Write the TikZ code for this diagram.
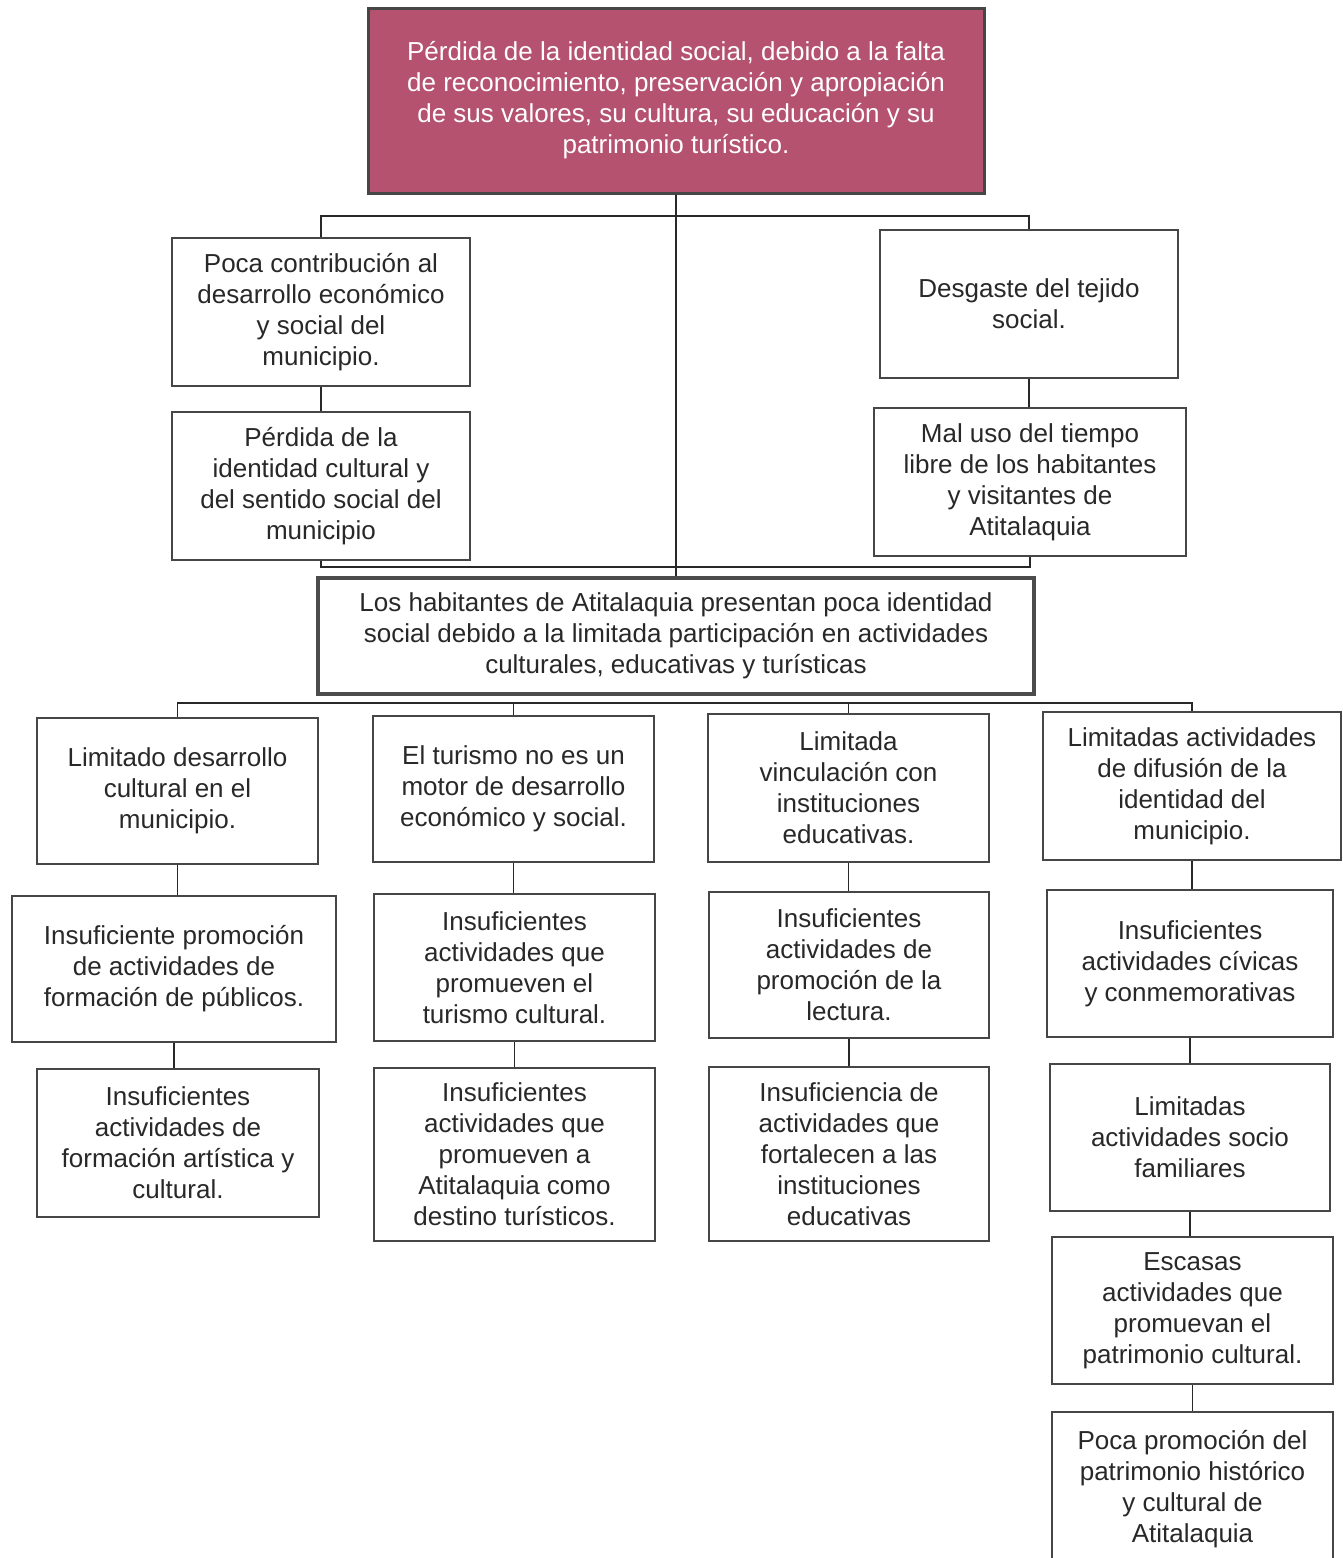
\documentclass[tikz,border=0pt]{standalone}
\usepackage{fontspec}
\setmainfont{Liberation Sans}
\definecolor{topfill}{RGB}{181,82,112}
\definecolor{ink}{RGB}{40,40,40}
\definecolor{edge}{RGB}{70,70,70}
\newcommand\mybox[7][]{\node[boxst,#1,minimum width={(#4-#2)*1pt},minimum height={(#5-#3)*1pt}] (#6) at ({(#2+#4)/2},{(#3+#5)/2}) {#7};}
\newcommand\vlink[2]{\path[link] (#1.south) -- (#1.south |- #2.north);}
\begin{document}
\begin{tikzpicture}[x=1pt,y=-1pt,
  boxst/.style={draw=edge,line width=2.5pt,fill=white,align=center,text=ink,inner sep=0pt,
     font=\fontsize{26}{31}\selectfont},
  topst/.style={fill=topfill,draw=edge,line width=3pt,text=white},
  midst/.style={line width=3.5pt,draw=gray!60!black},
  link/.style={draw=ink,line width=1.5pt}]
\useasboundingbox[fill=white] (0,0) rectangle (1343,1558);
% top
\mybox[topst]{368}{8}{984}{193}{top}{Pérdida de la identidad social, debido a la falta\\de reconocimiento, preservación y apropiación\\de sus valores, su cultura, su educación y su\\patrimonio turístico.}
% left chain
\mybox{172}{238}{470}{386}{L1}{Poca contribución al\\desarrollo económico\\y social del\\municipio.}
\mybox{172}{412}{470}{560}{L2}{Pérdida de la\\identidad cultural y\\del sentido social del\\municipio}
% right chain
\mybox{880}{230}{1178}{378}{R1}{Desgaste del tejido\\social.}
\mybox{874}{408}{1186}{556}{R2}{Mal uso del tiempo\\libre de los habitantes\\y visitantes de\\Atitalaquia}
% center
\mybox[midst]{318}{578}{1034}{694}{mid}{Los habitantes de Atitalaquia presentan poca identidad\\social debido a la limitada participación en actividades\\culturales, educativas y turísticas}
% column A
\mybox{37}{718}{318}{864}{A1}{Limitado desarrollo\\cultural en el\\municipio.}
\mybox{12}{896}{336}{1042}{A2}{Insuficiente promoción\\de actividades de\\formación de públicos.}
\mybox{37}{1069}{319}{1217}{A3}{Insuficientes\\actividades de\\formación artística y\\cultural.}
% column B
\mybox{373}{716}{654}{862}{B1}{El turismo no es un\\motor de desarrollo\\económico y social.}
\mybox{374}{894}{655}{1041}{B2}{Insuficientes\\actividades que\\promueven el\\turismo cultural.}
\mybox{374}{1068}{655}{1241}{B3}{Insuficientes\\actividades que\\promueven a\\Atitalaquia como\\destino turísticos.}
% column C
\mybox{708}{714}{989}{862}{C1}{Limitada\\vinculación con\\instituciones\\educativas.}
\mybox{709}{892}{989}{1038}{C2}{Insuficientes\\actividades de\\promoción de la\\lectura.}
\mybox{709}{1067}{989}{1241}{C3}{Insuficiencia de\\actividades que\\fortalecen a las\\instituciones\\educativas}
% column D
\mybox{1043}{712}{1341}{860}{D1}{Limitadas actividades\\de difusión de la\\identidad del\\municipio.}
\mybox{1047}{890}{1333}{1037}{D2}{Insuficientes\\actividades cívicas\\y conmemorativas}
\mybox{1050}{1064}{1330}{1211}{D3}{Limitadas\\actividades socio\\familiares}
\mybox{1052}{1237}{1333}{1384}{D4}{Escasas\\actividades que\\promuevan el\\patrimonio cultural.}
\mybox{1052}{1412}{1333}{1566}{D5}{Poca promoción del\\patrimonio histórico\\y cultural de\\Atitalaquia}
% connectors
\coordinate (bar1) at (677,216);
\coordinate (bar2) at (677,567);
\coordinate (bar3) at (677,703);
\path[link] (top.south) -- (mid.north);
\path[link] (L1.north) |- (bar1) -| (R1.north);
\vlink{L1}{L2}
\vlink{R1}{R2}
\path[link] (L2.south) |- (bar2) -| (R2.south);
\path[link] (A1.north) |- (bar3) -| (D1.north);
\path[link] (B1.north) |- (bar3);
\path[link] (C1.north) |- (bar3);
\vlink{A1}{A2}
\vlink{A2}{A3}
\vlink{B1}{B2}
\vlink{B2}{B3}
\vlink{C1}{C2}
\vlink{C2}{C3}
\vlink{D1}{D2}
\vlink{D2}{D3}
\vlink{D3}{D4}
\vlink{D4}{D5}
\end{tikzpicture}
\end{document}
